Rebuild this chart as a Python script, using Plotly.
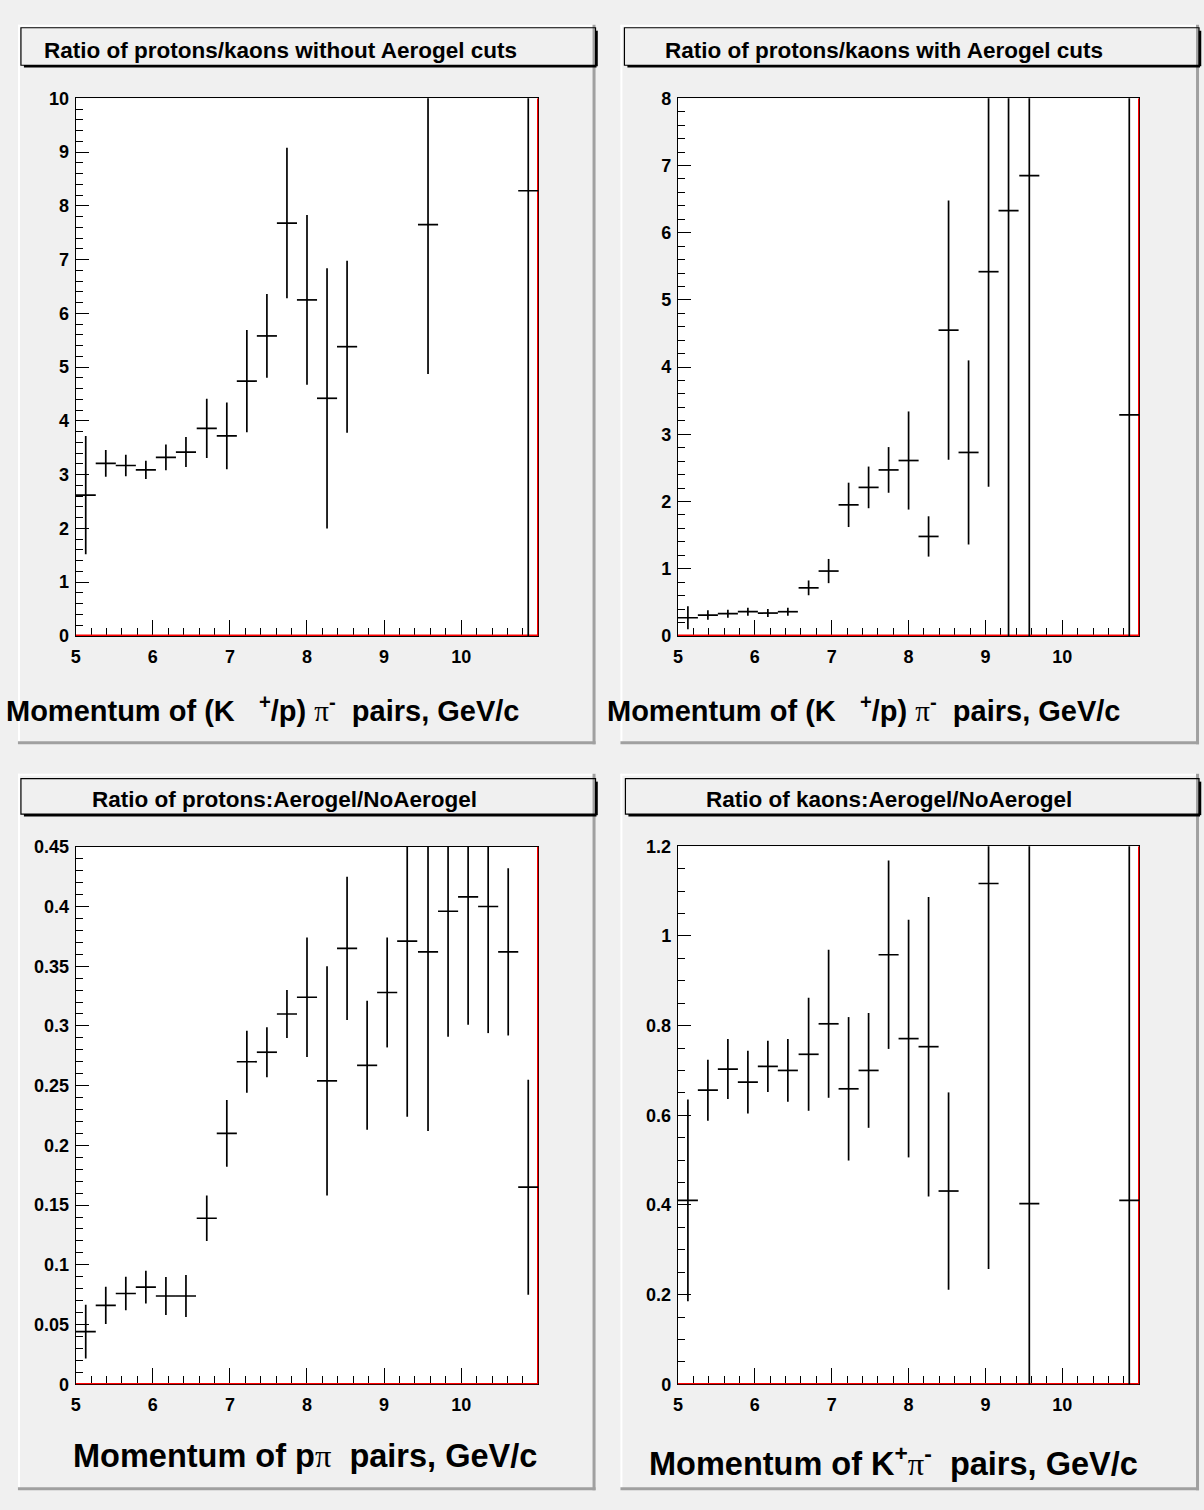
import plotly.graph_objects as go

W, H = 1204, 1510

# ---------------- data ----------------
bin_centers = [5.13, 5.39, 5.65, 5.91, 6.17, 6.43, 6.70, 6.96, 7.22, 7.48, 7.74, 8.00,
               8.26, 8.52, 8.78, 9.04, 9.30, 9.57, 9.83, 10.09, 10.35, 10.61, 10.87]
bin_half_width = 0.1304

p1_vals = [2.62, 3.21, 3.17, 3.09, 3.32, 3.42, 3.86, 3.72, 4.74, 5.58, 7.68, 6.25,
           4.42, 5.38, None, None, None, 7.65, None, None, None, None, 8.28]
p1_errs = [1.10, 0.25, 0.20, 0.17, 0.24, 0.28, 0.55, 0.62, 0.95, 0.78, 1.40, 1.58,
           2.42, 1.60, None, None, None, 2.78, None, None, None, None, 9.0]

p2_vals = [0.27, 0.31, 0.33, 0.36, 0.34, 0.36, 0.715, 0.965, 1.95, 2.21, 2.47, 2.61,
           1.48, 4.55, 2.73, 5.42, 6.33, 6.85, None, None, None, None, 3.29]
p2_errs = [0.17, 0.07, 0.06, 0.06, 0.06, 0.06, 0.11, 0.18, 0.33, 0.31, 0.34, 0.73,
           0.30, 1.93, 1.37, 3.2, 7.0, 7.5, None, None, None, None, 5.0]

p3_vals = [0.0441, 0.0661, 0.076, 0.0813, 0.0739, 0.0739, 0.139, 0.21, 0.27, 0.278, 0.31, 0.324,
           0.254, 0.365, 0.267, 0.328, 0.371, 0.362, 0.396, 0.408, 0.40, 0.362, 0.165]
p3_errs = [0.0225, 0.0156, 0.014, 0.0137, 0.016, 0.0175, 0.019, 0.028, 0.026, 0.021, 0.02, 0.05,
           0.096, 0.06, 0.054, 0.046, 0.147, 0.15, 0.105, 0.107, 0.106, 0.07, 0.09]

p4_vals = [0.41, 0.656, 0.703, 0.674, 0.709, 0.70, 0.736, 0.804, 0.659, 0.70, 0.958, 0.771,
           0.753, 0.431, None, 1.117, None, 0.403, None, None, None, None, 0.41]
p4_errs = [0.225, 0.068, 0.067, 0.07, 0.057, 0.07, 0.126, 0.165, 0.16, 0.128, 0.21, 0.265,
           0.334, 0.22, None, 0.86, None, 1.0, None, None, None, None, 1.0]

x_ticks = [5, 6, 7, 8, 9, 10]
x_range = [5, 11]

titles = ["Ratio of protons/kaons without Aerogel cuts",
          "Ratio of protons/kaons with Aerogel cuts",
          "Ratio of protons:Aerogel/NoAerogel",
          "Ratio of kaons:Aerogel/NoAerogel"]

PI = "<span style='font-family:\"Liberation Serif\";font-weight:normal'>\u03c0</span>"
x_titles = [
    "Momentum of (K\u00a0\u00a0 <sup>+</sup>/p)\u00a0" + PI + "<sup>-</sup>\u00a0 pairs, GeV/c",
    "Momentum of (K\u00a0\u00a0 <sup>+</sup>/p)\u00a0" + PI + "<sup>-</sup>\u00a0 pairs, GeV/c",
    "Momentum of p" + PI + "\u00a0 pairs, GeV/c",
    "Momentum of K<sup>+</sup>" + PI + "<sup>-</sup>\u00a0 pairs, GeV/c",
]
x_title_sizes = [29, 29, 32.5, 32.5]

panels = [
    dict(vals=p1_vals, errs=p1_errs, yrange=[0, 10], dtick=1, minor=0.2,
         frame=(71, 535.5, 89.5, 634.3)),
    dict(vals=p2_vals, errs=p2_errs, yrange=[0, 8], dtick=1, minor=0.2,
         frame=(675.7, 1139, 89.5, 634.3)),
    dict(vals=p3_vals, errs=p3_errs, yrange=[0, 0.45], dtick=0.05, minor=0.01,
         frame=(71, 535.5, 848, 1392.7)),
    dict(vals=p4_vals, errs=p4_errs, yrange=[0, 1.2], dtick=0.2, minor=0.05,
         frame=(675.7, 1139, 847.5, 1392.7)),
]

# pads: (left, top, right, bottom)
pads = [(13, 15, 593, 744), (618, 15, 1199, 744), (13, 774, 593, 1500), (618, 774, 1199, 1500)]
# title boxes: (left, top, right, bottom)
tboxes = [(16, 18, 593, 56), (622, 18, 1199, 56), (16, 779, 593, 815), (623, 779, 1199, 815)]
title_pos = [(276.5, 41), (883, 41), (281, 800), (887.5, 800)]
xtitle_pos = [(518, 708), (1122, 708), (536, 1465), (1140, 1470)]


def px(x):
    return x / W


def py(y):
    return 1 - y / H


fig = go.Figure()
layout = dict(width=W, height=H, margin=dict(l=0, r=0, t=0, b=0), autosize=False,
              paper_bgcolor="#f0f0f0", plot_bgcolor="#ffffff", showlegend=False)

tickfont = dict(family="Liberation Sans", size=18, color="black", weight="bold")

shapes = []
annotations = []

for i, p in enumerate(panels):
    n = i + 1
    xa = "xaxis" if n == 1 else f"xaxis{n}"
    ya = "yaxis" if n == 1 else f"yaxis{n}"
    xr = "x" if n == 1 else f"x{n}"
    yr = "y" if n == 1 else f"y{n}"
    L, R, T, B = p["frame"]
    layout[xa] = dict(domain=[px(L), px(R)], range=x_range, anchor=yr,
                      tickmode="array", tickvals=x_ticks, ticks="inside", ticklen=16,
                      tickwidth=1.3, tickcolor="black",
                      minor=dict(tickmode="linear", tick0=5, dtick=0.2, ticks="inside",
                                 ticklen=8, tickwidth=1.3, tickcolor="black"),
                      showline=True, linecolor="black", linewidth=1.3, mirror=True,
                      showgrid=False, zeroline=False, tickfont=tickfont,
                      ticklabelstandoff=4, layer="below traces")
    layout[ya] = dict(domain=[py(B), py(T)], range=p["yrange"], anchor=xr,
                      tickmode="linear", tick0=0, dtick=p["dtick"], ticks="inside",
                      ticklen=13, tickwidth=1.3, tickcolor="black",
                      minor=dict(tickmode="linear", tick0=0, dtick=p["minor"], ticks="inside",
                                 ticklen=7, tickwidth=1.3, tickcolor="black"),
                      showline=True, linecolor="black", linewidth=1.3, mirror=True,
                      showgrid=False, zeroline=False, tickfont=tickfont,
                      ticklabelstandoff=2, layer="below traces")

    # red histogram outline along the bottom and the right edge
    fig.add_trace(go.Scatter(x=[x_range[0], x_range[1], x_range[1]],
                             y=[0, 0, p["yrange"][1]], mode="lines",
                             line=dict(color="#ff0000", width=2.6),
                             xaxis=xr, yaxis=yr, hoverinfo="skip"))
    # data points with error bars
    fig.add_trace(go.Scatter(x=bin_centers, y=p["vals"], mode="markers",
                             marker=dict(size=1, color="black"),
                             error_y=dict(type="data", array=p["errs"], width=0,
                                          thickness=1.7, color="black"),
                             error_x=dict(type="constant", value=bin_half_width, width=0,
                                          thickness=1.7, color="black"),
                             xaxis=xr, yaxis=yr))

    # pad borders
    pl, pt, pr, pb = pads[i]
    shapes.append(dict(type="line", xref="paper", yref="paper", layer="below",
                       x0=px(pl + 1), x1=px(pl + 1), y0=py(pt), y1=py(pb),
                       line=dict(color="#ffffff", width=2)))
    shapes.append(dict(type="line", xref="paper", yref="paper", layer="below",
                       x0=px(pl), x1=px(pr), y0=py(pt + 1), y1=py(pt + 1),
                       line=dict(color="#ffffff", width=2)))
    shapes.append(dict(type="line", xref="paper", yref="paper", layer="below",
                       x0=px(pr - 1.5), x1=px(pr - 1.5), y0=py(pt), y1=py(pb),
                       line=dict(color="#a0a0a0", width=3)))
    shapes.append(dict(type="line", xref="paper", yref="paper", layer="below",
                       x0=px(pl), x1=px(pr), y0=py(pb - 1.5), y1=py(pb - 1.5),
                       line=dict(color="#a0a0a0", width=3)))

    # title box with shadow
    bl, bt, br, bb = tboxes[i]
    shapes.append(dict(type="line", xref="paper", yref="paper", layer="above",
                       x0=px(bl + 3), x1=px(br + 1), y0=py(bb + 1), y1=py(bb + 1),
                       line=dict(color="#000000", width=2.5)))
    shapes.append(dict(type="line", xref="paper", yref="paper", layer="above",
                       x0=px(br + 1), x1=px(br + 1), y0=py(bt + 3), y1=py(bb + 1),
                       line=dict(color="#000000", width=2.5)))
    shapes.append(dict(type="rect", xref="paper", yref="paper", layer="above",
                       x0=px(bl), x1=px(br), y0=py(bb), y1=py(bt),
                       line=dict(color="#000000", width=1.2), fillcolor="rgba(0,0,0,0)"))

    tx, ty = title_pos[i]
    annotations.append(dict(xref="paper", yref="paper", x=px(tx), y=py(ty),
                            xanchor="center", yanchor="middle", showarrow=False,
                            text=titles[i],
                            font=dict(family="Liberation Sans", size=22.5, color="black",
                                      weight="bold")))
    ax, ay = xtitle_pos[i]
    annotations.append(dict(xref="paper", yref="paper", x=px(ax), y=py(ay),
                            xanchor="right", yanchor="middle", showarrow=False,
                            text=x_titles[i],
                            font=dict(family="Liberation Sans", size=x_title_sizes[i],
                                      color="black", weight="bold")))

layout["shapes"] = shapes
layout["annotations"] = annotations
fig.update_layout(**layout)

fig.write_html("out.html")
